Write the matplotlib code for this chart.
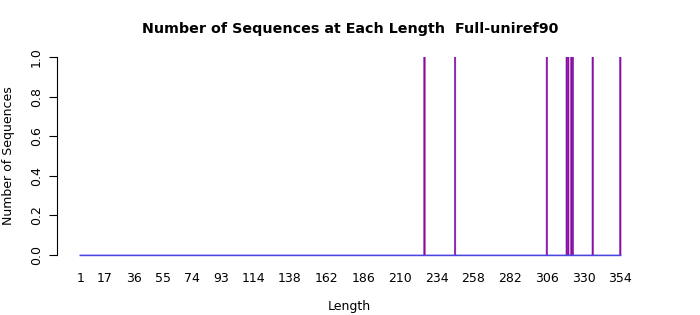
import numpy as np
import matplotlib
matplotlib.use('Agg')
import matplotlib.pyplot as plt

# sequence lengths that occur, and how many sequences have each
MAX_LENGTH = 354
seq_lengths = [226, 246, 306, 319, 320, 322, 323, 336, 354]
seq_counts = [1, 1, 1, 1, 1, 1, 1, 1, 1]
tick_lengths = [1, 17, 36, 55, 74, 93, 114, 138, 162, 186, 210, 234,
                258, 282, 306, 330, 354]

all_lengths = np.arange(1, MAX_LENGTH + 1)
all_counts = np.zeros(MAX_LENGTH)
for length, count in zip(seq_lengths, seq_counts):
    all_counts[length - 1] = count

fig = plt.figure(figsize=(7, 3.15), dpi=100)
ax = fig.add_axes([57 / 700, 60 / 315, 585 / 700, 198 / 315])

ax.bar(all_lengths, all_counts, width=1.0, color='#b00080',
       edgecolor='#5a28d0', linewidth=0.35, snap=False)
# zero height bars leave only their border, a line along the base
ax.hlines(0, all_lengths[0] - 0.5, all_lengths[-1] + 0.5,
          color='#4848e0', linewidth=1.0, clip_on=False, zorder=3)

ax.set_xlim(-14.2, 368.2)
ax.set_ylim(0, 1)

for side in ['top', 'right', 'bottom']:
    ax.spines[side].set_visible(False)
ax.spines['left'].set_linewidth(0.8)

ax.set_xticks(tick_lengths)
ax.set_xticklabels([str(t) for t in tick_lengths], fontsize=9)
ax.tick_params(axis='x', length=0, pad=12)
ax.set_yticks([0.0, 0.2, 0.4, 0.6, 0.8, 1.0])
ax.set_yticklabels(['0.0', '0.2', '0.4', '0.6', '0.8', '1.0'],
                   fontsize=9, rotation=90, va='center')
ax.tick_params(axis='y', length=6, width=0.8, pad=4)

ax.set_xlabel('Length', fontsize=9, labelpad=11)
ax.set_ylabel('Number of Sequences', fontsize=9, labelpad=11)
fig.text(0.5, 1 - 29 / 315, 'Number of Sequences at Each Length  Full-uniref90',
         ha='center', va='center', fontsize=10.3, fontweight='bold')

fig.savefig('out.png', dpi=100)
